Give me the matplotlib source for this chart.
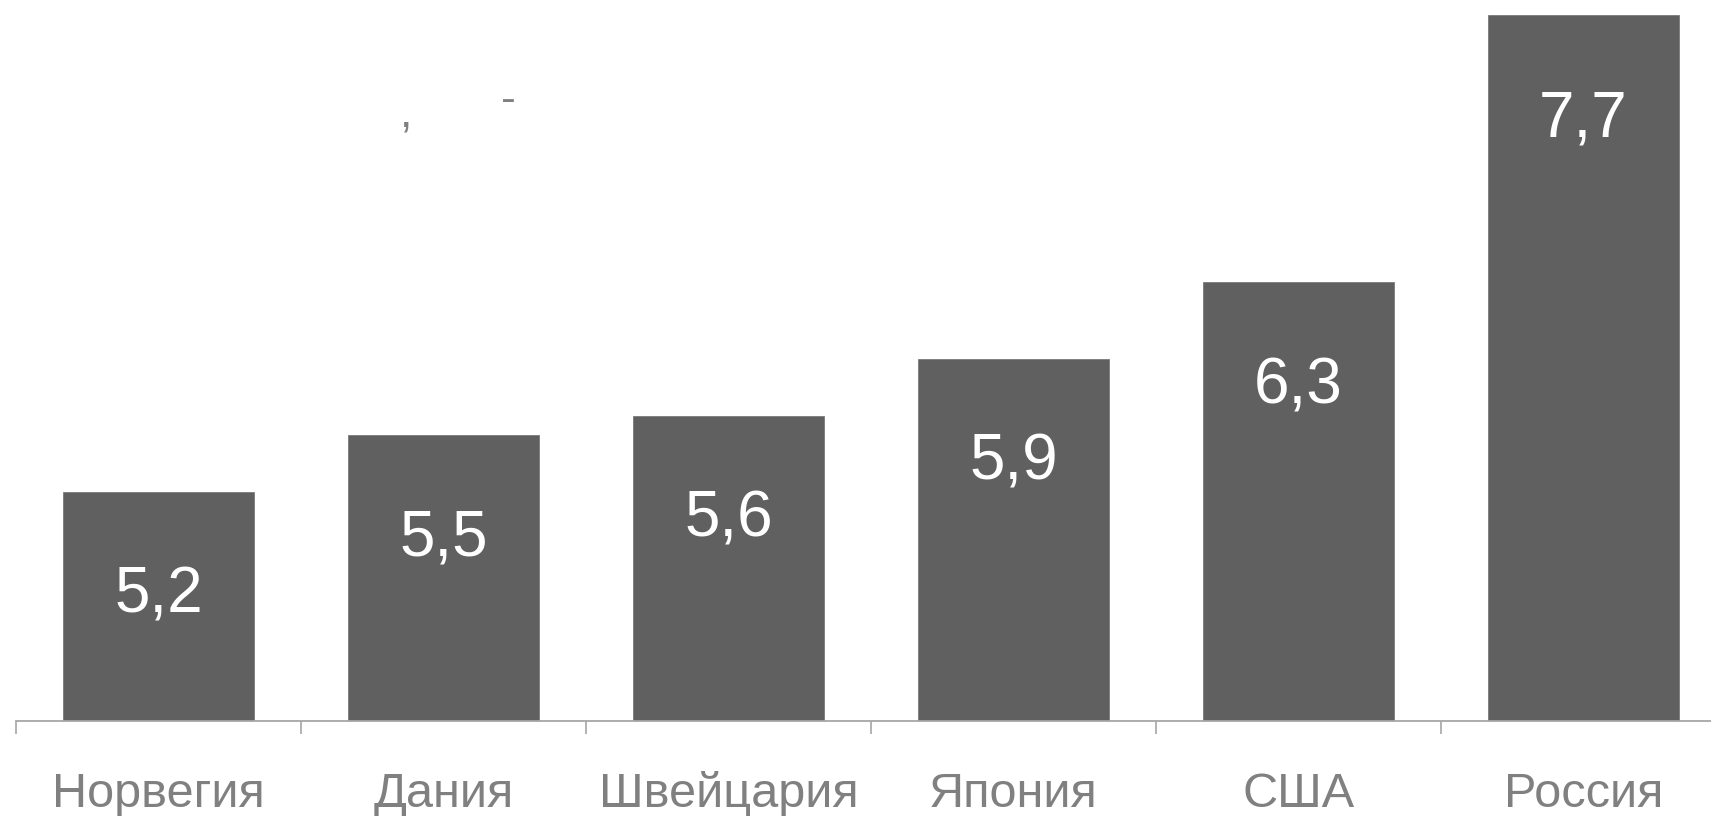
import matplotlib
matplotlib.use("Agg")
import matplotlib.pyplot as plt
import numpy as np

categories = ["Норвегия", "Дания", "Швейцария", "Япония", "США", "Россия"]
values = [5.2, 5.5, 5.6, 5.9, 6.3, 7.7]
value_labels = ["5,2", "5,5", "5,6", "5,9", "6,3", "7,7"]

plt.rcParams['font.family'] = ['Liberation Sans', 'DejaVu Sans']

W, H = 1711, 816
fig = plt.figure(figsize=(W / 100, H / 100), dpi=100)
ax = fig.add_axes([16 / W, 95 / H, 1710 / W, 763 / H])

x = np.arange(len(categories))
bars = ax.bar(x, values, width=0.67, bottom=0, color='#606060',
              edgecolor='#7a7a7a', linewidth=0.6, zorder=2)
ax.set_xlim(-0.5, 5.5)
ax.set_ylim(4, 8)

for xi, v, lab in zip(x, values, value_labels):
    ax.annotate(lab, xy=(xi, v), xytext=(0, -87), textcoords='offset points',
                ha='center', va='baseline', color='white', fontsize=46)

for s in ['top', 'left', 'right']:
    ax.spines[s].set_visible(False)
ax.spines['bottom'].set_color('#a6a6a6')
ax.spines['bottom'].set_linewidth(1.3)
ax.set_yticks([])

ax.set_xticks(x)
ax.set_xticklabels(categories, fontsize=35, color='#808080')
for t in ax.get_xticklabels():
    t.set_va('baseline')
ax.tick_params(axis='x', which='major', length=0, pad=62)
ax.set_xticks(np.arange(-0.5, 6.0, 1.0), minor=True)
ax.tick_params(axis='x', which='minor', length=9.5, width=1.2, color='#a6a6a6', direction='out')

# stray punctuation of the (white) title
fig.text(406 / W, 1 - 115 / H, ",", color='#808080', fontsize=32, ha='center', va='center')
fig.text(508 / W, 1 - 101 / H, "-", color='#808080', fontsize=32, ha='center', va='center')

fig.savefig("out.png", dpi=100, facecolor='white')
